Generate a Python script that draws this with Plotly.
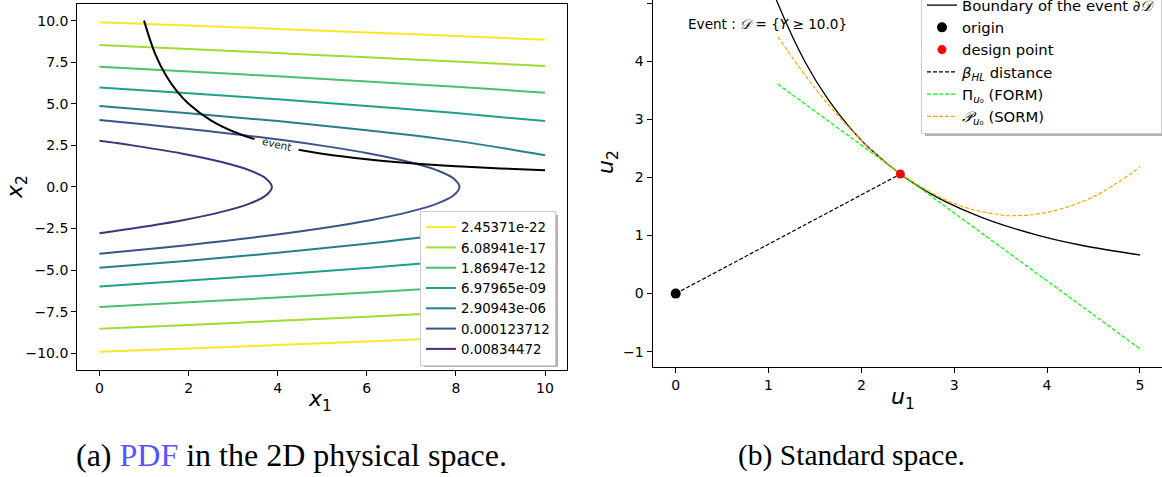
import plotly.graph_objects as go

# ---------------- data: left panel (physical space) ----------------
level_labels = ["2.45371e-22", "6.08941e-17", "1.86947e-12", "6.97965e-09",
                "2.90943e-06", "0.000123712", "0.00834472"]
level_colors = ["#fde725", "#a2da37", "#4ac16d", "#1fa088", "#277f8e", "#3b528b", "#472f7d"]

# open contours (upper / lower branches) sampled on x1
branch_x1 = [0, 2, 4, 6, 8, 10]
lvl_2e22_upper = [9.91, 9.71, 9.50, 9.29, 9.07, 8.85]
lvl_2e22_lower = [-9.91, -9.71, -9.50, -9.29, -9.07, -8.85]
lvl_6e17_upper = [8.53, 8.30, 8.05, 7.80, 7.54, 7.27]
lvl_6e17_lower = [-8.53, -8.30, -8.05, -7.80, -7.54, -7.27]
lvl_1e12_upper = [7.22, 6.94, 6.65, 6.34, 6.02, 5.67]
lvl_1e12_lower = [-7.22, -6.94, -6.65, -6.34, -6.02, -5.67]
lvl_6e09_upper = [5.98, 5.63, 5.27, 4.87, 4.44, 3.96]
lvl_6e09_lower = [-5.98, -5.63, -5.27, -4.87, -4.44, -3.96]
lvl_2e06_upper = [4.86, 4.43, 3.96, 3.41, 2.77, 1.91]
lvl_2e06_lower = [-4.86, -4.43, -3.96, -3.41, -2.77, -1.91]

# closed (parabola-like) contours sampled on x2
lvl_1e04_x2 = [4.02, 3.75, 3.5, 3.0, 2.5, 2.0, 1.5, 1.0, 0.5, 0.0,
               -0.5, -1.0, -1.5, -2.0, -2.5, -3.0, -3.5, -3.75, -4.02]
lvl_1e04_x1 = [0.0, 1.05, 1.95, 3.58, 4.95, 6.08, 6.95, 7.58, 7.95, 8.08,
               7.95, 7.58, 6.95, 6.08, 4.95, 3.58, 1.95, 1.05, 0.0]
lvl_8e03_x2 = [2.78, 2.65, 2.5, 2.0, 1.5, 1.0, 0.5, 0.0,
               -0.5, -1.0, -1.5, -2.0, -2.5, -2.65, -2.78]
lvl_8e03_x1 = [0.0, 0.36, 0.74, 1.87, 2.74, 3.37, 3.74, 3.87,
               3.74, 3.37, 2.74, 1.87, 0.74, 0.36, 0.0]

# event boundary in physical space (split around the inline label)
event_a_x1 = [1.0, 1.25, 1.5, 1.75, 2.0, 2.5, 3.0, 3.48]
event_a_x2 = [10.0, 8.0, 6.667, 5.714, 5.0, 4.0, 3.333, 2.874]
event_b_x1 = [4.47, 5.0, 6.0, 7.0, 8.0, 9.0, 10.0]
event_b_x2 = [2.237, 2.0, 1.667, 1.429, 1.25, 1.111, 1.0]

# ---------------- data: right panel (standard space) ----------------
bound_u1 = [1.038, 1.10, 1.391, 1.647, 1.878, 2.090, 2.471, 2.808, 3.118, 3.402, 3.914, 4.37, 5.0]
bound_u2 = [5.263, 5.0, 4.0, 3.333, 2.857, 2.5, 2.0, 1.667, 1.429, 1.25, 1.0, 0.833, 0.665]
origin_u = [0.0, 0.0]
design_u = [2.42, 2.06]
form_u1 = [1.1, 5.0]
form_u2 = [3.61, -0.95]
sorm_u1 = [1.1, 1.5, 2.0, 2.42, 3.0, 3.5, 3.66, 4.0, 4.5, 5.0]
sorm_u2 = [4.43, 3.54, 2.64, 2.07, 1.55, 1.355, 1.343, 1.40, 1.67, 2.18]

W, H = 1162, 477
FONT = "DejaVu Sans"

fig = go.Figure()

open_upper = [lvl_2e22_upper, lvl_6e17_upper, lvl_1e12_upper, lvl_6e09_upper, lvl_2e06_upper]
open_lower = [lvl_2e22_lower, lvl_6e17_lower, lvl_1e12_lower, lvl_6e09_lower, lvl_2e06_lower]
for i in range(5):
    fig.add_trace(go.Scatter(x=branch_x1, y=open_upper[i], mode="lines", line_shape="spline",
                             line=dict(color=level_colors[i], width=2), name=level_labels[i],
                             legendgroup=level_labels[i], legend="legend", xaxis="x", yaxis="y"))
    fig.add_trace(go.Scatter(x=branch_x1, y=open_lower[i], mode="lines", line_shape="spline",
                             line=dict(color=level_colors[i], width=2), name=level_labels[i],
                             legendgroup=level_labels[i], showlegend=False, xaxis="x", yaxis="y"))
fig.add_trace(go.Scatter(x=lvl_1e04_x1, y=lvl_1e04_x2, mode="lines", line_shape="spline",
                         line=dict(color=level_colors[5], width=2), name=level_labels[5],
                         legend="legend", xaxis="x", yaxis="y"))
fig.add_trace(go.Scatter(x=lvl_8e03_x1, y=lvl_8e03_x2, mode="lines", line_shape="spline",
                         line=dict(color=level_colors[6], width=2), name=level_labels[6],
                         legend="legend", xaxis="x", yaxis="y"))
for ex, ey in [(event_a_x1, event_a_x2), (event_b_x1, event_b_x2)]:
    fig.add_trace(go.Scatter(x=ex, y=ey, mode="lines", line_shape="spline",
                             line=dict(color="black", width=2), showlegend=False,
                             xaxis="x", yaxis="y"))

# right panel
dash = "4px,2px"
fig.add_trace(go.Scatter(x=bound_u1, y=bound_u2, mode="lines", line_shape="spline",
                         line=dict(color="black", width=1.3),
                         name="Boundary of the event ∂<i>𝒟</i>", legend="legend2",
                         xaxis="x2", yaxis="y2"))
fig.add_trace(go.Scatter(x=[origin_u[0], design_u[0]], y=[origin_u[1], design_u[1]], mode="lines",
                         line=dict(color="black", width=1.2, dash=dash), showlegend=False,
                         xaxis="x2", yaxis="y2"))
fig.add_trace(go.Scatter(x=form_u1, y=form_u2, mode="lines",
                         line=dict(color="#00ff00", width=1.2, dash=dash), showlegend=False,
                         xaxis="x2", yaxis="y2"))
fig.add_trace(go.Scatter(x=sorm_u1, y=sorm_u2, mode="lines", line_shape="spline",
                         line=dict(color="#ffa500", width=1.2, dash=dash), showlegend=False,
                         xaxis="x2", yaxis="y2"))
fig.add_trace(go.Scatter(x=[origin_u[0]], y=[origin_u[1]], mode="markers",
                         marker=dict(color="black", size=10), name="origin", legend="legend2",
                         xaxis="x2", yaxis="y2"))
fig.add_trace(go.Scatter(x=[design_u[0]], y=[design_u[1]], mode="markers",
                         marker=dict(color="red", size=9), name="design point", legend="legend2",
                         xaxis="x2", yaxis="y2"))
# legend-only entries for dashed lines (same styling as the drawn lines)
fig.add_trace(go.Scatter(x=[None], y=[None], mode="lines",
                         line=dict(color="black", width=1.2, dash=dash),
                         name="<i>β</i><sub><i>HL</i></sub> distance", legend="legend2",
                         xaxis="x2", yaxis="y2"))
fig.add_trace(go.Scatter(x=[None], y=[None], mode="lines",
                         line=dict(color="#00ff00", width=1.2, dash=dash),
                         name="Π<sub><i>u</i>₀</sub> (FORM)", legend="legend2",
                         xaxis="x2", yaxis="y2"))
fig.add_trace(go.Scatter(x=[None], y=[None], mode="lines",
                         line=dict(color="#ffa500", width=1.2, dash=dash),
                         name="<i>𝒫</i><sub><i>u</i>₀</sub> (SORM)", legend="legend2",
                         xaxis="x2", yaxis="y2"))

axis_common = dict(showgrid=False, zeroline=False, showline=True, linecolor="black", linewidth=1,
                   ticks="outside", ticklen=5, tickwidth=1, tickcolor="black",
                   tickfont=dict(family=FONT, size=14, color="black"))


def px_x(p):
    return p / W


def px_y(p):
    return 1 - p / H


fig.update_layout(
    width=W, height=H, margin=dict(l=0, r=0, t=0, b=0, autoexpand=False),
    paper_bgcolor="white", plot_bgcolor="white",
    font=dict(family=FONT, color="black"),
    xaxis=dict(domain=[px_x(77.2), px_x(567.3)], range=[-0.5, 10.5], tickvals=[0, 2, 4, 6, 8, 10],
               anchor="y", mirror=True, **axis_common),
    yaxis=dict(domain=[px_y(369.9), px_y(4.0)], range=[-11, 11], tick0=0, dtick=2.5,
               tickformat=".1f", anchor="x", mirror=True, **axis_common),
    xaxis2=dict(domain=[px_x(652.5), 1.0], range=[-0.25, 5.238], dtick=1, tick0=0,
                anchor="y2", **axis_common),
    yaxis2=dict(domain=[px_y(366.7), 1.0], range=[-1.26, 5.06], dtick=1, tick0=0,
                anchor="x2", **axis_common),
    legend=dict(x=px_x(420), y=px_y(211), xanchor="left", yanchor="top",
                bgcolor="white", bordercolor="#cccccc", borderwidth=1,
                font=dict(family=FONT, size=13.3, color="black"), itemwidth=30,
                tracegroupgap=0),
    legend2=dict(x=px_x(921), y=px_y(-12), xanchor="left", yanchor="top",
                 bgcolor="white", bordercolor="#cccccc", borderwidth=1,
                 font=dict(family=FONT, size=14.8, color="black"), itemwidth=30),
    showlegend=True,
)

# legend shadows (matplotlib-style drop shadow)
shadow = "rgba(0,0,0,0.3)"
fig.add_shape(type="rect", xref="paper", yref="paper", layer="above",
              x0=px_x(424), x1=px_x(558), y0=px_y(367), y1=px_y(215),
              fillcolor=shadow, line=dict(width=0))
fig.add_shape(type="rect", xref="paper", yref="paper", layer="above",
              x0=px_x(925), x1=px_x(1162), y0=px_y(136), y1=px_y(-8),
              fillcolor=shadow, line=dict(width=0))

ann = []
ann.append(dict(x=3.98, y=2.61, xref="x", yref="y", text="event", showarrow=False,
                xanchor="center", yanchor="middle",
                textangle=13, font=dict(family=FONT, size=10.5, color="#222222")))
ann.append(dict(x=px_x(320), y=px_y(400), xref="paper", yref="paper", text="<i>x</i><sub>1</sub>",
                xanchor="center", yanchor="middle",
                showarrow=False, font=dict(family=FONT, size=22, color="black")))
ann.append(dict(x=px_x(16), y=px_y(187), xref="paper", yref="paper", text="<i>x</i><sub>2</sub>",
                xanchor="center", yanchor="middle",
                showarrow=False, textangle=-90, font=dict(family=FONT, size=22, color="black")))
ann.append(dict(x=px_x(903), y=px_y(398), xref="paper", yref="paper", text="<i>u</i><sub>1</sub>",
                xanchor="center", yanchor="middle",
                showarrow=False, font=dict(family=FONT, size=22, color="black")))
ann.append(dict(x=px_x(608), y=px_y(162), xref="paper", yref="paper", text="<i>u</i><sub>2</sub>",
                xanchor="center", yanchor="middle",
                showarrow=False, textangle=-90, font=dict(family=FONT, size=22, color="black")))
ann.append(dict(x=px_x(686), y=px_y(24), xref="paper", yref="paper", xanchor="left",
                yanchor="middle",
                text="Event : <i>𝒟</i> = {<i>Y</i> ≥ 10.0}", showarrow=False,
                font=dict(family=FONT, size=13.6, color="black")))
ann.append(dict(x=px_x(291.5), y=px_y(455), xref="paper", yref="paper",
                xanchor="center", yanchor="middle",
                text="(a) <span style='color:#5555ff'>PDF</span> in the 2D physical space.",
                showarrow=False, font=dict(family="Liberation Serif", size=32, color="black")))
ann.append(dict(x=px_x(851), y=px_y(455), xref="paper", yref="paper",
                xanchor="center", yanchor="middle",
                text="(b) Standard space.",
                showarrow=False, font=dict(family="Liberation Serif", size=29.5, color="black")))
fig.update_layout(annotations=ann)

fig.write_html("out.html",
               config={"displayModeBar": False},
               post_script="document.body.style.margin='0';document.body.style.overflow='hidden';")
